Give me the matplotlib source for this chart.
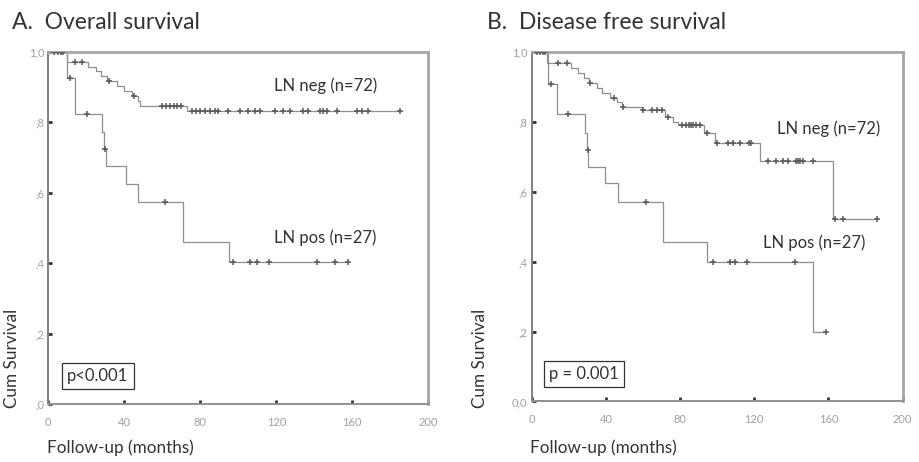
import numpy as np
import matplotlib
matplotlib.use('Agg')
import matplotlib.pyplot as plt

plt.rcParams['font.family'] = ['Lato', 'DejaVu Sans']

# A. overall survival (months, survival after each event; censored times)
os_neg_t = [10, 21, 25, 28, 31, 36, 40, 44, 47, 48.5, 73]
os_neg_s = [0.972, 0.958, 0.944, 0.930, 0.916, 0.902, 0.888, 0.874, 0.860, 0.847, 0.832]
os_neg_cens = [3, 5, 6.5, 8, 14, 18, 32, 45, 60, 62, 64, 66, 68, 70,
               75.6, 78, 80, 82.6, 85, 88, 89.5, 94.7, 101, 105, 108.9, 111.6,
               119.5, 123.7, 127.4, 134, 136.8, 143, 144.7, 146.8, 152,
               162.6, 165, 168.4, 185]

os_pos_t = [10, 14, 28.5, 29.5, 30.5, 41, 47, 71, 95]
os_pos_s = [0.925, 0.824, 0.772, 0.724, 0.677, 0.625, 0.573, 0.46, 0.403]
os_pos_cens = [11.5, 20.4, 30, 61.6, 97.4, 106, 110, 116, 141.6, 151, 158]

# B. disease free survival
dfs_neg_t = [8.1, 21, 25, 28, 31, 35, 38, 42, 46, 48.5, 59.3, 72, 76, 79,
             93, 98.8, 123, 162.6]
dfs_neg_s = [0.967, 0.953, 0.939, 0.925, 0.911, 0.897, 0.883, 0.869, 0.856,
             0.843, 0.833, 0.814, 0.80, 0.79, 0.767, 0.738, 0.688, 0.521]
dfs_neg_cens = [3, 4.5, 6, 7, 14.3, 18.9, 31.6, 44.3, 49, 60, 64.7, 67.4, 70.1,
                73.6, 81, 83, 85, 86, 87, 88.5, 91, 94.3, 100.1, 106, 108.7,
                112.3, 117.2, 118.2, 127.5, 132, 135.6, 138.3, 142.5, 143.5,
                144.7, 146.5, 151.8, 163.5, 168, 186]

dfs_pos_t = [9, 13.5, 28.7, 29.8, 30.5, 39.5, 46.7, 70.9, 94.3, 151.8]
dfs_pos_s = [0.907, 0.821, 0.767, 0.719, 0.671, 0.624, 0.571, 0.457, 0.398, 0.2]
dfs_pos_cens = [10.4, 19.4, 30.2, 61.6, 97.9, 106.9, 109.6, 115.9, 141.9, 158.5]

x_ticks = [0, 40, 80, 120, 160, 200]
y_ticks = [0, 0.2, 0.4, 0.6, 0.8, 1.0]
y_labels_a = [',0', ',2', ',4', ',6', ',8', '1,0']
y_labels_b = ['0,0', ',2', ',4', ',6', ',8', '1,0']


def km_curve(ax, t, s, cens):
    t = np.asarray(t, float)
    s = np.asarray(s, float)
    end = max(max(cens), t[-1])
    xs = np.concatenate([[0], t, [end]])
    ys = np.concatenate([[1.0], s, [s[-1]]])
    ax.step(xs, ys, where='post', color='#8f8f8f', lw=0.9, zorder=2)
    c = np.asarray(cens, float)
    idx = np.searchsorted(t, c, side='right')
    cy = np.concatenate([[1.0], s])[idx]
    ax.plot(c, cy, ls='none', marker='+', ms=5, mew=1.1, color='#5a5a5a', zorder=3)


def style_axes(ax, ylabels):
    ax.set_xlim(0, 200)
    ax.set_ylim(0, 1.0)
    ax.set_xticks(x_ticks)
    ax.set_xticklabels([str(v) for v in x_ticks])
    ax.set_yticks(y_ticks)
    ax.set_yticklabels(ylabels)
    for sp in ax.spines.values():
        sp.set_color('#a6a6a6')
        sp.set_linewidth(2.0)
    ax.spines['left'].set_color('#808080')
    ax.spines['left'].set_linewidth(1.4)
    ax.spines['bottom'].set_color('#909090')
    ax.spines['bottom'].set_linewidth(1.4)
    ax.tick_params(direction='in', length=3, width=2, color='#333333',
                   labelsize=8, labelcolor='#a0a0a0')
    ax.tick_params(axis='x', pad=9)
    ax.tick_params(axis='y', pad=3)


fig = plt.figure(figsize=(9.2, 4.62), dpi=100)
ax1 = fig.add_axes([0.0525, 0.125, 0.413, 0.763])
ax2 = fig.add_axes([0.578, 0.131, 0.403, 0.757])

km_curve(ax1, os_neg_t, os_neg_s, os_neg_cens)
km_curve(ax1, os_pos_t, os_pos_s, os_pos_cens)
style_axes(ax1, y_labels_a)

km_curve(ax2, dfs_neg_t, dfs_neg_s, dfs_neg_cens)
km_curve(ax2, dfs_pos_t, dfs_pos_s, dfs_pos_cens)
style_axes(ax2, y_labels_b)

ax1.text(119, 0.905, 'LN neg (n=72)', fontsize=12, color='#333333', va='center')
ax1.text(119, 0.472, 'LN pos (n=27)', fontsize=12, color='#333333', va='center')
ax2.text(132.5, 0.78, 'LN neg (n=72)', fontsize=12, color='#333333', va='center')
ax2.text(124.5, 0.455, 'LN pos (n=27)', fontsize=12, color='#333333', va='center')

box = dict(boxstyle='square,pad=0.3', fc='white', ec='#333333', lw=0.9)
ax1.text(10, 0.065, 'p<0.001', fontsize=12, color='#333333', bbox=box)
ax2.text(9.5, 0.065, 'p = 0.001', fontsize=12, color='#333333', bbox=box)

fig.text(0.013, 0.952, 'A.  Overall survival', fontsize=16.5, color='#333333', va='center')
fig.text(0.529, 0.952, 'B.  Disease free survival', fontsize=16.5, color='#333333', va='center')

fig.text(0.013, 0.225, 'Cum Survival', fontsize=12.3, color='#333333',
         rotation=90, ha='center', va='center')
fig.text(0.522, 0.225, 'Cum Survival', fontsize=12.3, color='#333333',
         rotation=90, ha='center', va='center')
fig.text(0.051, 0.03, 'Follow-up (months)', fontsize=12.3, color='#333333', va='center')
fig.text(0.576, 0.03, 'Follow-up (months)', fontsize=12.3, color='#333333', va='center')

fig.savefig('out.png', dpi=100, facecolor='white')
